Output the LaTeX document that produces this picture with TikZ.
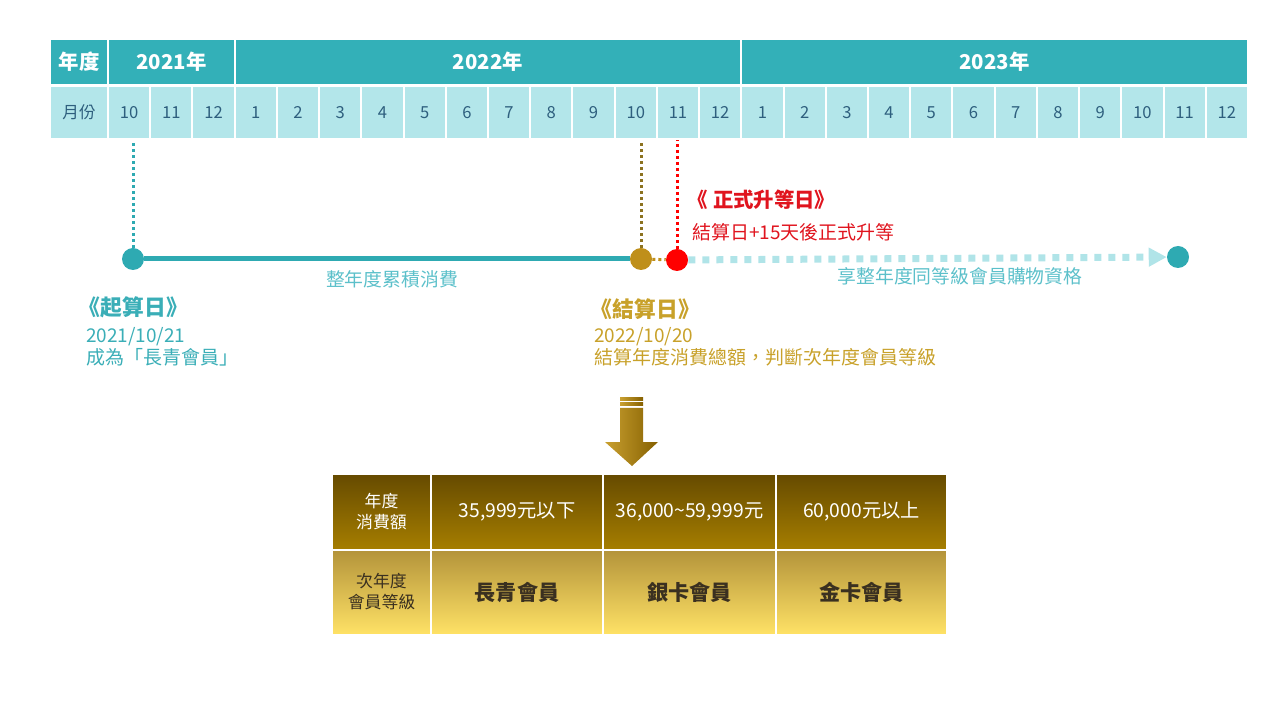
\documentclass[tikz,border=0pt]{standalone}
\usepackage{fontspec}
\setmainfont{Noto Sans CJK TC}
\usetikzlibrary{positioning,arrows.meta}

\definecolor{yearbg}{HTML}{33B0B8}
\definecolor{monthbg}{HTML}{B3E6EA}
\definecolor{monthtxt}{HTML}{2E5F7E}
\definecolor{tealc}{HTML}{2EAAB2}
\definecolor{tealtxt}{HTML}{3AAEB7}
\definecolor{lighttxt}{HTML}{5CC0CA}
\definecolor{cyandot}{HTML}{B0E4E8}
\definecolor{goldc}{HTML}{BF8F1A}
\definecolor{goldtxt}{HTML}{C8A12A}
\definecolor{olivec}{HTML}{8C7220}
\definecolor{redc}{HTML}{FF0000}
\definecolor{redtxt}{HTML}{E0141E}
\definecolor{rowatop}{HTML}{654A00}
\definecolor{rowabot}{HTML}{A67E00}
\definecolor{rowbtop}{HTML}{B3933A}
\definecolor{rowbbot}{HTML}{FFE266}
\definecolor{arrowlight}{HTML}{C9A030}
\definecolor{arrowdark}{HTML}{856000}
\definecolor{darktxt}{HTML}{3A3020}

\newdimen\pxu \pxu=0.025cm

\begin{document}
\begin{tikzpicture}[x=0.025cm, y=-0.025cm,
  yearcell/.style={draw=white, line width=2\pxu, fill=yearbg, text=white, inner sep=0pt,
    minimum height=46\pxu, font=\fontsize{14.5}{16}\selectfont\bfseries},
  monthcell/.style={draw=white, line width=2\pxu, fill=monthbg, text=monthtxt, inner sep=0pt,
    minimum height=53\pxu, minimum width=42.22\pxu, font=\fontsize{11.8}{13}\selectfont},
  dot/.style={circle, inner sep=0pt, minimum size=22\pxu},
  vdots/.style={line width=3\pxu, dash pattern=on 3\pxu off 3\pxu},
  cyandots/.style={cyandot, line width=7\pxu, dash pattern=on 7\pxu off 7\pxu},
  title/.style={anchor=west, font=\fontsize{15.5}{18}\selectfont\bfseries},
  note/.style={anchor=north west, align=left, inner sep=0pt, font=\fontsize{13.5}{15.6}\selectfont},
  line label/.style={text=lighttxt, font=\fontsize{13.4}{15}\selectfont},
  rowa/.style={draw=white, line width=2\pxu, top color=rowatop, bottom color=rowabot, text=white,
    inner sep=0pt, minimum height=76\pxu, align=center, font=\fontsize{13.7}{16}\selectfont},
  rowb/.style={draw=white, line width=2\pxu, top color=rowbtop, bottom color=rowbbot, text=darktxt,
    inner sep=0pt, minimum height=85\pxu, align=center, font=\fontsize{15}{17}\selectfont\bfseries}]

  \useasboundingbox (0,0) rectangle (1280,720);

  % header rows
  \node[yearcell, minimum width=58\pxu] (yhead) at (79,62) {年度};
  \node[yearcell, minimum width=127\pxu] (y2021) at (171.5,62) {2021年};
  \node[yearcell, minimum width=506\pxu] (y2022) at (488,62) {2022年};
  \node[yearcell, minimum width=507\pxu] (y2023) at (994.5,62) {2023年};
  \node[monthcell, minimum width=58\pxu] (mhead) at (79,112.5) {月份};
  \foreach \m [count=\i from 0] in {10,11,12,1,2,3,4,5,6,7,8,9,10,11,12,1,2,3,4,5,6,7,8,9,10,11,12}
    \node[monthcell] (m\i) at ({108+42.22*\i+21.11},112.5) {\m};

  % timeline
  \node[dot, fill=tealc] (start) at (133,259) {};
  \node[dot, fill=goldc] (settle) at (641,259) {};
  \node[dot, fill=redc] (upgrade) at (677,260) {};
  \node[dot, fill=tealc] (finish) at (1178,257) {};

  \draw[tealc, vdots] (start) -- (start |- m0.south);
  \draw[olivec, vdots] (settle) -- (settle |- m12.south);
  \draw[redc, vdots] (upgrade) -- (upgrade |- m13.south);
  \draw[tealc, line width=5\pxu] (start) -- (settle);
  \draw[goldc, vdots] (settle) -- (upgrade);
  \draw[cyandots, -{Triangle[length=0.45cm, width=0.45cm]}] (upgrade) -- (finish);

  \node[line label] (sumlabel) at (392,279) {整年度累積消費};
  \node[line label] (enjoylabel) at (960,276) {享整年度同等級會員購物資格};

  % labels
  \node[title, text=tealtxt] (starttitle) at (74,307) {《起算日》};
  \node[note, text=tealtxt] (startnote) at (86,327) {2021/10/21\\成為「長青會員」};
  \node[title, text=goldtxt] (settletitle) at (586,309) {《結算日》};
  \node[note, text=goldtxt] (settlenote) at (594,327) {2022/10/20\\結算年度消費總額，判斷次年度會員等級};
  \node[title, text=redtxt, font=\fontsize{14.5}{17}\selectfont\bfseries] (uptitle) at (683,200) {《 正式升等日》};
  \node[note, text=redtxt, anchor=west] (upnote) at (692,232) {結算日+15天後正式升等};

  % arrow
  \shade[left color=arrowlight, right color=arrowdark] (620,398) rectangle (643,401);
  \shade[left color=arrowlight, right color=arrowdark] (620,403) rectangle (643,406);
  \shade[left color=arrowlight, right color=arrowdark]
    (620,408) -- (643,408) -- (643,442) -- (658,442) -- (632,466) -- (605,442) -- (620,442) -- cycle;

  % table
  \node[rowa, minimum width=99\pxu, font=\fontsize{12}{15}\selectfont] (a1) at (381.5,511.5) {年度\\消費額};
  \node[rowa, minimum width=172\pxu] (a2) at (517,511.5) {35,999元以下};
  \node[rowa, minimum width=173\pxu] (a3) at (689.5,511.5) {36,000\textasciitilde59,999元};
  \node[rowa, minimum width=171\pxu] (a4) at (861.5,511.5) {60,000元以上};
  \node[rowb, minimum width=99\pxu, font=\fontsize{12}{15}\selectfont] (b1) at (381.5,592) {次年度\\會員等級};
  \node[rowb, minimum width=172\pxu] (b2) at (517,592) {長青會員};
  \node[rowb, minimum width=173\pxu] (b3) at (689.5,592) {銀卡會員};
  \node[rowb, minimum width=171\pxu] (b4) at (861.5,592) {金卡會員};
\end{tikzpicture}
\end{document}
